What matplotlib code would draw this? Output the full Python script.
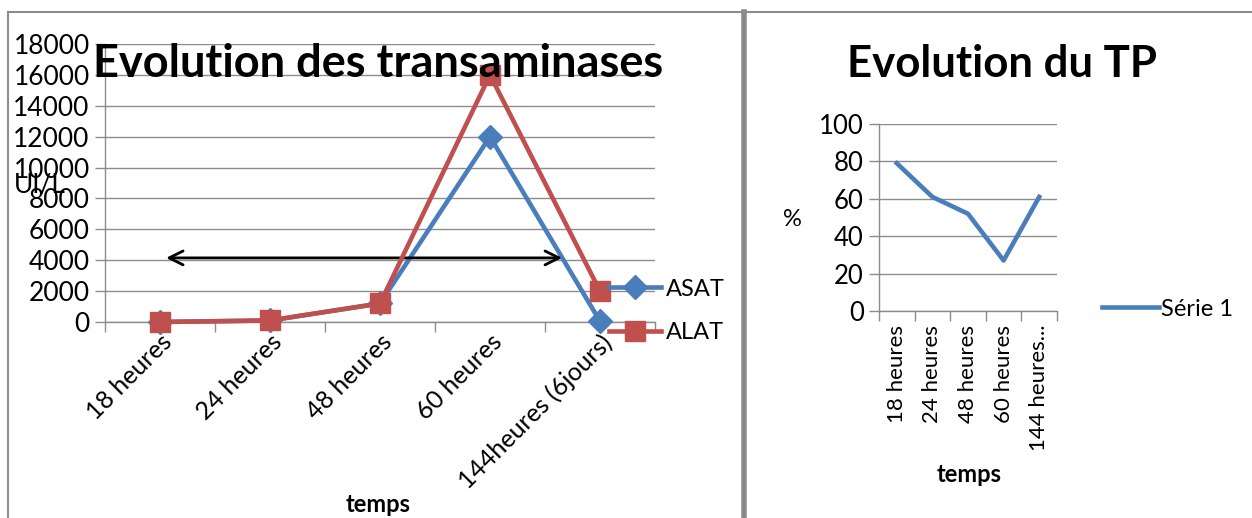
import numpy as np
import matplotlib
matplotlib.use("Agg")
import matplotlib.pyplot as plt
from matplotlib.lines import Line2D

plt.rcParams['font.family'] = ['Lato', 'DejaVu Sans']

# data
temps = ['18 heures', '24 heures', '48 heures', '60 heures', '144heures (6jours)']
temps_tp = ['18 heures', '24 heures', '48 heures', '60 heures', '144 heures...']
asat = [0, 100, 1200, 12000, 50]
alat = [0, 100, 1200, 16000, 2000]
tp = [79, 61, 52, 27, 61]
fleche_y = 4150
fleche_x = [0.03, 3.68]

blue = '#4A7EBB'
red = '#C0504D'
grid_c = '#8C8C8C'

W, H = 1252, 518
fig = plt.figure(figsize=(W / 100, H / 100), dpi=100)


def px(x0, y_top, x1, y_bot):
    return [x0 / W, 1 - y_bot / H, (x1 - x0) / W, (y_bot - y_top) / H]


def style_axes(ax, n):
    ax.set_xlim(-0.5, n - 0.5)
    for s in ['top', 'right']:
        ax.spines[s].set_visible(False)
    for s in ['left', 'bottom']:
        ax.spines[s].set_color(grid_c)
        ax.spines[s].set_linewidth(1)
    ax.yaxis.grid(True, color=grid_c, linewidth=1)
    ax.set_axisbelow(True)
    ax.set_xticks(np.arange(n))
    ax.set_xticks(np.arange(n + 1) - 0.5, minor=True)
    ax.tick_params(axis='x', which='major', length=0, pad=6)
    ax.tick_params(axis='x', which='minor', length=7, color=grid_c, width=1)
    ax.tick_params(axis='y', length=7, color=grid_c, width=1, pad=4)


# ---- panneau gauche : transaminases
ax1 = fig.add_axes(px(105, 44, 655, 322))
x = np.arange(len(temps))
ax1.plot(x, asat, color=blue, lw=3.3, marker='D', ms=12, label='ASAT', zorder=3, clip_on=False)
ax1.plot(x, alat, color=red, lw=3.3, marker='s', ms=14, label='ALAT', zorder=4, clip_on=False)
style_axes(ax1, len(temps))
ax1.set_ylim(0, 18000)
ax1.set_yticks(np.arange(0, 18001, 2000))
ax1.tick_params(axis='y', labelsize=19)
ax1.set_xticklabels(temps, rotation=45, ha='right', rotation_mode='anchor', fontsize=18)
ax1.annotate('', xy=(fleche_x[1], fleche_y), xytext=(fleche_x[0], fleche_y),
             arrowprops=dict(arrowstyle='<->,head_length=1.0,head_width=0.5', color='black', lw=2))
ax1.legend(loc='center left', bbox_to_anchor=(0.9, 0.04), frameon=False, fontsize=17,
           handlelength=2.2, labelspacing=0.95, handletextpad=0.2, borderaxespad=0)

fig.text(378 / W, 1 - 64 / H, 'Evolution des transaminases', ha='center', va='center',
         fontsize=32.5, fontweight='bold')
fig.text(40 / W, 1 - 185 / H, 'UI/L', ha='center', va='center', fontsize=19)
fig.text(378 / W, 1 - 504 / H, 'temps', ha='center', va='center', fontsize=17, fontweight='bold')

# ---- panneau droit : TP
ax2 = fig.add_axes(px(879, 124, 1057, 311))
x2 = np.arange(len(tp))
ax2.plot(x2, tp, color=blue, lw=3.3, label='Série 1', zorder=3)
style_axes(ax2, len(tp))
ax2.set_ylim(0, 100)
ax2.set_yticks(np.arange(0, 101, 20))
ax2.tick_params(axis='y', labelsize=18.5)
ax2.set_xticklabels(temps_tp, rotation=90, ha='center', va='top', fontsize=16)
ax2.tick_params(axis='x', which='major', pad=10)
ax2.legend(loc='center left', bbox_to_anchor=(1.2, 0.01), frameon=False, fontsize=17,
           handlelength=2.4, handletextpad=0.1, borderaxespad=0)

fig.text(1002 / W, 1 - 64 / H, 'Evolution du TP', ha='center', va='center',
         fontsize=31.5, fontweight='bold')
fig.text(792 / W, 1 - 220 / H, '%', ha='center', va='center', fontsize=17)
fig.text(969 / W, 1 - 475 / H, 'temps', ha='center', va='center', fontsize=17, fontweight='bold')

# cadres des deux graphiques
fig.add_artist(Line2D([8 / W, 8 / W], [0, 1 - 12 / H], color='#8C8C8C', lw=1.5))
fig.add_artist(Line2D([8 / W, 1], [1 - 12 / H, 1 - 12 / H], color='#8C8C8C', lw=1.5))
fig.add_artist(Line2D([744 / W, 744 / W], [0, 1 - 12 / H], color='#8C8C8C', lw=4))

fig.savefig('out.png', dpi=100)
